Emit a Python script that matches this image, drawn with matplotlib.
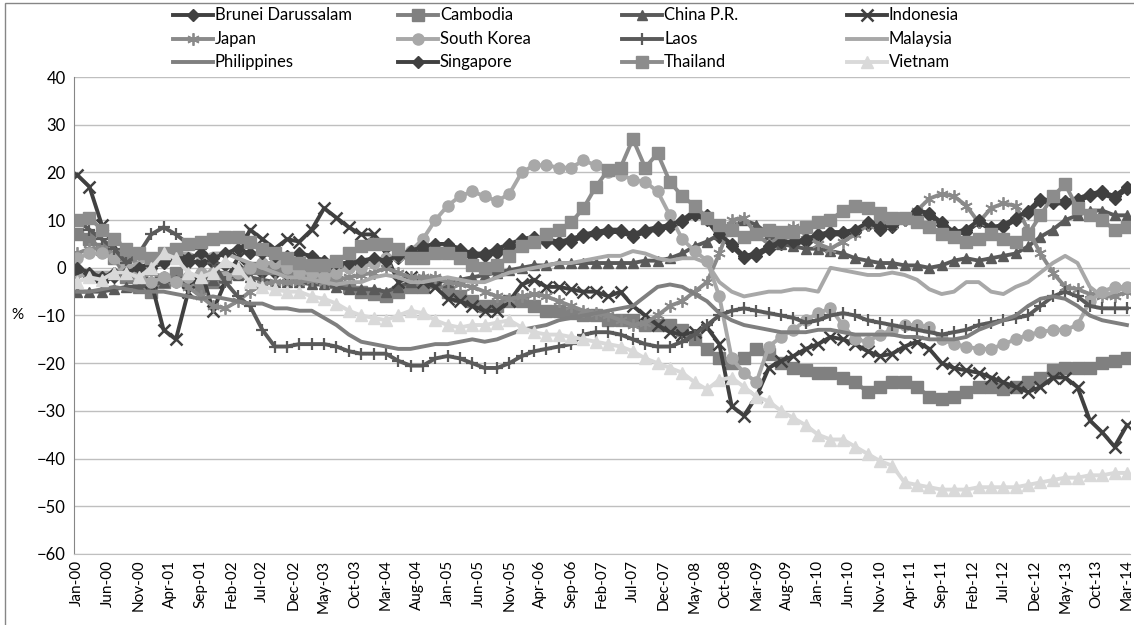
import numpy as np
import pandas as pd
import matplotlib
matplotlib.use("Agg")
import matplotlib.pyplot as plt
from matplotlib.lines import Line2D
from matplotlib.patches import Rectangle

# monthly categories Jan-00 .. Mar-14, values read every second month
months = pd.date_range("2000-01-01", "2014-03-01", freq="MS")
tick_pos = np.arange(0, len(months), 5)
tick_labels = months[tick_pos].strftime("%b-%y")
obs = np.arange(0, len(months), 2)

brunei = [-1, -2, -3, -2, -2, -1, 0, 1, 2, 1,
          1.5, 1, 0.5, 0, -0.5, -1, -1, -1.5, -1.5, -1,
          -0.5, 0, 0.5, 1, 1.5, 2, 2, 3, 3.5, 4,
          4, 3, 2.5, 2.5, 3, 4, 5, 5.5, 5.5, 5,
          5.5, 6.5, 7, 7.5, 7.5, 6.5, 7.5, 8, 8.5, 9.5,
          11, 10, 6.5, 4.5, 2, 2.5, 4, 5, 5, 5.5,
          6.5, 7, 7, 7.5, 9, 8, 8.5, 10, 11.5, 11,
          9, 7, 7.5, 9.5, 8, 8.5, 10, 11.5, 14, 13.5,
          13.5, 14, 15, 15.5, 14.5, 16.5]
cambodia = [7, 6, 4, 2, -2, -4, -5, -3, -1, -3,
            -4, -3, -2, -1, 0, 0, 0, -0.5, -1, -1.5,
            -2, -3, -4, -5, -5.5, -6, -5, -4, -4, -3,
            -5, -6, -7, -8, -8, -7, -7, -8, -9, -9,
            -9.5, -10, -10, -11, -11, -11, -12, -12, -12, -13,
            -15, -17, -19, -20, -19, -17, -18, -20, -21, -21.5,
            -22, -22, -23, -24, -26, -25, -24, -24, -25, -27,
            -27.5, -27, -26, -25, -25, -25.5, -25, -24, -23, -21.5,
            -21, -21, -21, -20, -19.5, -19]
china = [-5, -5, -5, -4.5, -4, -4, -3.5, -3, -2.5, -2,
         -2, -2.5, -2, -1.5, -2, -2.5, -3, -3, -3, -3.5,
         -3.5, -4, -4.5, -4.5, -4.5, -5, -4, -3, -2, -2.5,
         -3, -2.5, -2, -1.5, -1, -0.5, 0, 0.5, 0.5, 1,
         1, 1, 1, 1, 1, 1, 1.5, 1.5, 2, 3,
         4.5, 5.5, 7, 8.5, 10, 9, 7, 5, 4.5, 4,
         4, 3.5, 3, 2, 1.5, 1, 1, 0.5, 0.5, 0,
         0.5, 1.5, 2, 1.5, 2, 2.5, 3, 4.5, 6.5, 8,
         10, 11, 12, 12, 11, 11]
indonesia = [19.5, 17, 9, 4.5, 0.5, -1, -3, -13, -15, -5,
             0, -9, -3, 2, 8, 6, 4, 6, 5.5, 8,
             12.5, 10.5, 8.5, 7, 7, 3, -3, -2, -3, -4,
             -6.5, -7, -8, -9, -9, -7, -3.5, -2.5, -4, -4,
             -4.5, -5, -5, -6, -5, -8, -10, -12, -13.5, -14,
             -13.5, -12.5, -16, -29, -31, -27, -21, -19.5, -18.5, -17,
             -16, -14.5, -15, -16, -17.5, -18.5, -18, -16.5, -15.5, -17,
             -20, -21, -21.5, -22, -23, -24, -25, -26, -25, -23,
             -23, -25, -32, -34.5, -37.5, -33]
japan = [3, 4, 4, 3, 2, 1, -1, -2, -3, -4,
         -6, -8, -8.5, -7, -5, -3.5, -3, -3, -3, -2.5,
         -3, -2.5, -2, -1.5, -1, 0, -1, -2, -2, -2,
         -3, -3.5, -4, -5, -6, -6.5, -6, -5.5, -6, -7,
         -8, -9, -9.5, -10, -11, -12, -11.5, -10, -8, -7,
         -5, -3, 3, 10, 10.5, 7, 5, 6.5, 8.5, 7,
         5, 4, 5.5, 7, 9, 10, 9, 10, 12, 14.5,
         15.5, 15, 13, 9.5, 12.5, 13.5, 13, 8, 3, -1,
         -4, -4.5, -5.5, -6, -6, -5]
korea = [2, 3, 3, 2, 0, -2, -3, -2, -3, -2,
         -1, -1, -2, -1, 0, 1, 1, 0, -1, -1,
         -2, -1, 0, 0, 1, 2, 2.5, 3.5, 6, 10,
         13, 15, 16, 15, 14, 15.5, 20, 21.5, 21.5, 21,
         21, 22.5, 21.5, 20, 19.5, 18.5, 18, 16, 11, 6,
         3.5, 1.5, -6, -19, -22, -24, -16.5, -14.5, -13, -11,
         -9.5, -8.5, -12, -15, -15.5, -14, -13, -12, -12, -12.5,
         -15, -16, -16.5, -17, -17, -16, -15, -14, -13.5, -13,
         -13, -12, -7, -5, -4, -4]
laos = [10, 8, 6, 4, 1, 3, 7, 8.5, 7, 5,
        4, 1, -3, -6, -8, -13, -16.5, -16.5, -16, -16,
        -16, -16.5, -17.5, -18, -18, -18, -19.5, -20.5, -20.5, -19,
        -18.5, -19, -20, -21, -21, -20, -18.5, -17.5, -17, -16.5,
        -16, -14, -13.5, -13.5, -14, -15, -16, -16.5, -16.5, -15.5,
        -14, -12, -10, -9, -8.5, -9, -9.5, -10, -10.5, -11.5,
        -11, -10, -9.5, -10, -11, -11.5, -12, -12.5, -13, -13.5,
        -14, -13.5, -13, -12, -11.5, -11, -10.5, -10, -8, -6,
        -5, -6, -8, -8.5, -8.5, -8.5]
malaysia = [-2, -1, -1, -1, 0, 1, 2, 2, 3, 3,
            2, 3, 3, 2, 1, 0, -1, -2, -2, -2.5,
            -3, -3.5, -3, -3, -2, -1.5, -2, -3, -3, -2.5,
            -2, -2.5, -3, -3, -2, -1, -0.5, 0, 0.5, 1,
            1, 1.5, 2, 2.5, 2.5, 3.5, 3, 2, 1.5, 2,
            2, 1, -3, -5, -6, -5.5, -5, -5, -4.5, -4.5,
            -5, 0, -0.5, -1, -1.5, -1.5, -1, -1.5, -2.5, -4.5,
            -5.5, -5, -3, -3, -5, -5.5, -4, -3, -1, 1,
            2.5, 1, -4, -6, -5, -4]
philippines = [-5, -5, -4.5, -4, -4.5, -5, -5, -5, -5.5, -6,
               -6.5, -6, -6.5, -7, -7.5, -7.5, -8.5, -8.5, -9, -9,
               -10.5, -12, -14, -15.5, -16, -16.5, -17, -17, -16.5, -16,
               -16, -15.5, -15, -15.5, -15, -14, -13, -12.5, -12, -11,
               -10.5, -10, -9.5, -9, -8.5, -8, -6, -4, -3.5, -4,
               -5.5, -7, -9.5, -11, -12, -12.5, -13, -13.5, -13.5, -13.5,
               -13, -13, -13.5, -14, -14, -14, -14, -14.5, -14.5, -15,
               -15, -15, -14.5, -13, -12, -11, -10, -8, -6.5, -6,
               -6.5, -8, -10, -11, -11.5, -12]
singapore = [0, -1, -2, -1, -1, 0, 1, 2, 3, 2,
             3, 2, 3, 4, 3, 3, 2.5, 2.5, 3, 2.5,
             1.5, 1, 1, 1.5, 2, 1.5, 2.5, 3.5, 4.5, 5,
             5, 4, 3, 3, 4, 5, 6, 6.5, 6, 5.5,
             6, 7, 7.5, 8, 8, 7, 8, 8.5, 9, 10,
             12, 11, 7, 5, 2.5, 3, 4.5, 5.5, 5.5, 6,
             7, 7.5, 7.5, 8, 9.5, 8.5, 9, 10.5, 12, 11.5,
             9.5, 7.5, 8, 10, 8.5, 9, 10.5, 12, 14.5, 14,
             14, 14.5, 15.5, 16, 15, 17]
thailand = [10, 10.5, 8, 6, 4, 3, 2, 3, 4, 5,
            5.5, 6, 6.5, 6.5, 5.5, 4, 3, 2, 1, 0.5,
            0.5, 1.5, 3, 4.5, 5, 5, 4, 2, 2, 3,
            3, 2, 0.5, 0, 0.5, 2.5, 4.5, 5.5, 7, 8,
            9.5, 12.5, 17, 20.5, 21, 27, 21, 24, 18, 15,
            13, 10.5, 9, 8, 6.5, 7, 8, 7.5, 7.5, 8.5,
            9.5, 10, 12, 13, 12.5, 11.5, 10.5, 10.5, 9.5, 8.5,
            7, 6.5, 5.5, 6, 7, 6, 5.5, 7, 11, 15,
            17.5, 12.5, 11, 10, 8, 8.5]
vietnam = [-3, -2, -2.5, -1, -1, -2, 0, 3, 2, -1,
           -2, -1, 1.5, 0, -3, -4, -4.5, -5, -5, -6,
           -6.5, -7.5, -9, -10, -10.5, -11, -10, -9, -9.5, -11,
           -12, -12.5, -12, -12, -11.5, -11, -12.5, -13.5, -14, -14,
           -14.5, -15, -15.5, -16, -16.5, -17.5, -19, -20, -21, -22,
           -24, -25.5, -23.5, -23, -25, -27, -28, -30, -31.5, -33,
           -35, -36, -36, -37.5, -39, -40.5, -41.5, -45, -45.5, -46,
           -46.5, -46.5, -46.5, -46, -46, -46, -46, -45.5, -45, -44.5,
           -44, -44, -43.5, -43.5, -43, -43]

names = ["Brunei Darussalam", "Cambodia", "China P.R.", "Indonesia",
         "Japan", "South Korea", "Laos", "Malaysia",
         "Philippines", "Singapore", "Thailand", "Vietnam"]
values = [brunei, cambodia, china, indonesia, japan, korea, laos,
          malaysia, philippines, singapore, thailand, vietnam]
# colour, marker, marker size, marker edge width
styles = [("#404040", "D", 6.5, 1), ("#808080", "s", 8, 1),
          ("#5a5a5a", "^", 7.5, 1), ("#404040", "x", 8.5, 1.8),
          ("#8a8a8a", (6, 2, 0), 9, 1.3), ("#a8a8a8", "o", 8, 1),
          ("#5a5a5a", "+", 9, 1.6), ("#a8a8a8", "", 0, 0),
          ("#7f7f7f", "", 0, 0), ("#404040", "D", 6.5, 1),
          ("#8c8c8c", "s", 8, 1), ("#d9d9d9", "^", 8, 1)]

plt.rcParams["font.family"] = ["Lato", "DejaVu Sans"]
W, H = 1134, 625
fig = plt.figure(figsize=(W / 100, H / 100), dpi=100)
ax = fig.add_axes([74 / W, 1 - 554 / H, (1130 - 74) / W, (554 - 77) / H])

for vals, (col, mk, ms, mew) in zip(values, styles):
    ax.plot(obs, vals, color=col, lw=2.8, marker=mk, ms=ms, mew=mew,
            mfc=col, mec=col)

ax.set_xlim(-0.5, len(months) - 0.5)
ax.set_ylim(-60, 40)
ax.set_yticks(np.arange(-60, 41, 10))
ax.set_xticks(tick_pos)
ax.set_xticklabels(tick_labels, rotation=90, fontsize=11)
ax.tick_params(axis="y", labelsize=12, length=0, pad=6)
ax.tick_params(axis="x", length=0, pad=4)
ax.grid(axis="y", color="#bfbfbf", lw=1)
ax.set_axisbelow(True)
for s in ["top", "right"]:
    ax.spines[s].set_visible(False)
ax.spines["left"].set_color("#868686")
ax.spines["bottom"].set_color("#bfbfbf")
fig.text(17 / W, 1 - 315 / H, "%", fontsize=11, va="center", ha="center")

# legend laid out like the Excel one: 4 fixed-width columns
col_x = [173, 398, 622, 847]
row_y = [15, 39, 62]
for k, (name, (col, mk, ms, mew)) in enumerate(zip(names, styles)):
    x0 = col_x[k % 4]
    y0 = 1 - row_y[k // 4] / H
    xs = [x0 / W, (x0 + 20) / W, (x0 + 40) / W]
    fig.add_artist(Line2D(xs, [y0] * 3, color=col, lw=2.8, marker=mk,
                          ms=ms, mew=mew, mfc=col, mec=col, markevery=[1]))
    fig.text((x0 + 42) / W, y0, name, fontsize=12, va="center", ha="left")

fig.add_artist(Rectangle((5 / W, -0.1), 1.2, 1 - 3 / H + 0.1, fill=False,
                         ec="#868686", lw=1, transform=fig.transFigure))

fig.savefig("out.png", dpi=100)
